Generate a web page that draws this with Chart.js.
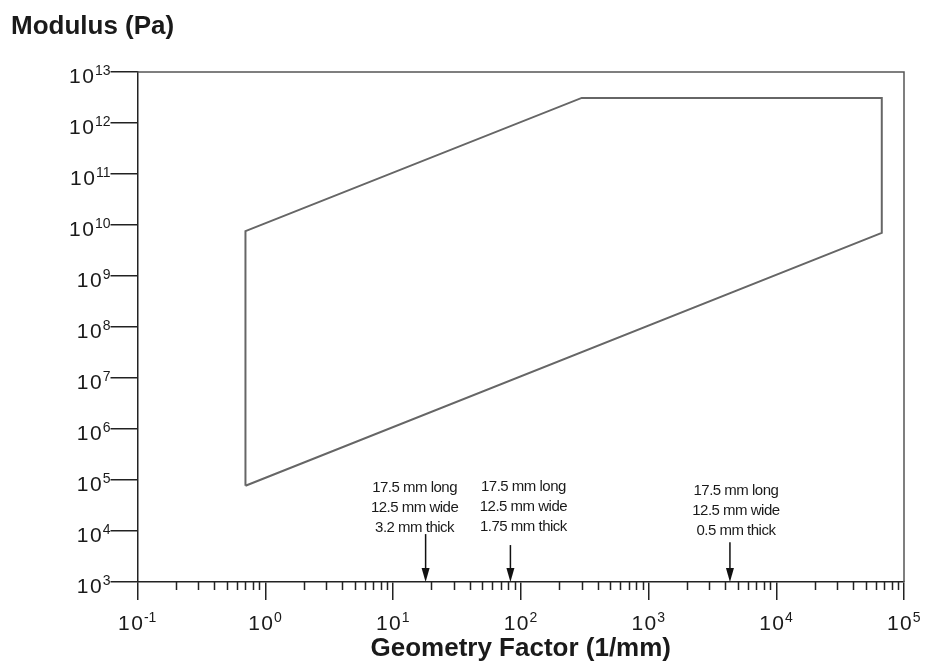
<!DOCTYPE html>
<html>
<head>
<meta charset="utf-8">
<script src="https://cdn.jsdelivr.net/npm/chart.js@4.4.0/dist/chart.umd.min.js"></script>
<style>
  body { margin: 0; background: #fff; }
  #wrap { width: 929px; height: 668px; }
</style>
</head>
<body>
<div id="wrap"><canvas id="chart"></canvas></div>
<script>
// Outline of the measurable region (geometry factor vs modulus)
const outlineX = [0.7, 0.7, 300, 67000, 67000, 0.7];
const outlineY = [7.7e4, 7.6e9, 3.1e12, 3.1e12, 7.0e9, 7.7e4];

// Decades shown on the axes (exponents of ten)
const xExponents = [-1, 0, 1, 2, 3, 4, 5];
const yExponents = [3, 4, 5, 6, 7, 8, 9, 10, 11, 12, 13];

// Sample geometries marked with arrows
const sampleX = [18, 83, 4340];
const sampleArrowTop = [8.7e3, 5.3e3, 6.0e3];
const sampleLabels = [
    ['17.5 mm long', '12.5 mm wide', '3.2 mm thick'],
    ['17.5 mm long', '12.5 mm wide', '1.75 mm thick'],
    ['17.5 mm long', '12.5 mm wide', '0.5 mm thick']
];

const FONT = '"Liberation Sans", Arial, Helvetica, sans-serif';
const INK = '#1a1a1a';

// label offsets in pixels (dx from arrow, first baseline above axis)
const labelShift = [[-11, 90], [13, 91], [6, 87]];

function drawPower(ctx, exp, xPos, baseY, align) {
    ctx.font = '21px ' + FONT;
    ctx.letterSpacing = '1.5px';
    const bw = ctx.measureText('10').width;
    ctx.font = '14px ' + FONT;
    ctx.letterSpacing = '0px';
    const supText = String(exp);
    const sw = ctx.measureText(supText).width;
    const total = bw + sw;
    const start = align === 'center' ? xPos - total / 2 : xPos - total;
    ctx.textAlign = 'left';
    ctx.textBaseline = 'alphabetic';
    ctx.font = '21px ' + FONT;
    ctx.letterSpacing = '1.5px';
    ctx.fillText('10', start, baseY);
    ctx.font = '14px ' + FONT;
    ctx.letterSpacing = '0px';
    ctx.fillText(supText, start + bw - 0.5, baseY - 8);
}

const decorations = {
    id: 'decorations',
    beforeDatasetsDraw(chart) {
        const { ctx, chartArea: a } = chart;
        ctx.save();
        ctx.strokeStyle = '#555';
        ctx.lineWidth = 1.5;
        ctx.beginPath();
        ctx.moveTo(a.left, a.top);
        ctx.lineTo(a.right, a.top);
        ctx.lineTo(a.right, a.bottom);
        ctx.stroke();
        ctx.restore();
    },
    afterDraw(chart) {
        const { ctx, chartArea: a, scales: { x, y } } = chart;
        ctx.save();

        // minor ticks on the x axis
        ctx.strokeStyle = '#222';
        ctx.lineWidth = 1.5;
        ctx.beginPath();
        for (let e = xExponents[0]; e < xExponents[xExponents.length - 1]; e++) {
            for (let k = 2; k <= 9; k++) {
                const px = Math.round(x.getPixelForValue(k * Math.pow(10, e))) + 0.5;
                ctx.moveTo(px, a.bottom);
                ctx.lineTo(px, a.bottom + 8);
            }
        }
        ctx.stroke();

        // tick labels
        ctx.fillStyle = INK;
        xExponents.forEach(e => {
            drawPower(ctx, e, x.getPixelForValue(Math.pow(10, e)), a.bottom + 48, 'center');
        });
        yExponents.forEach(e => {
            drawPower(ctx, e, 111, y.getPixelForValue(Math.pow(10, e)) + 11, 'right');
        });

        // y axis title
        ctx.font = 'bold 26px ' + FONT;
        ctx.letterSpacing = '0px';
        ctx.textAlign = 'left';
        ctx.fillText('Modulus (Pa)', 11, 34);

        // sample arrows and labels
        sampleX.forEach((v, i) => {
            const px = x.getPixelForValue(v);
            const top = y.getPixelForValue(sampleArrowTop[i]);
            const tip = y.getPixelForValue(1e3);
            ctx.strokeStyle = '#111';
            ctx.lineWidth = 1.5;
            ctx.beginPath();
            ctx.moveTo(px, top);
            ctx.lineTo(px, tip - 10);
            ctx.stroke();
            ctx.fillStyle = '#111';
            ctx.beginPath();
            ctx.moveTo(px - 4, tip - 14);
            ctx.lineTo(px + 4, tip - 14);
            ctx.lineTo(px, tip);
            ctx.closePath();
            ctx.fill();

            ctx.fillStyle = INK;
            ctx.font = '15px ' + FONT;
            ctx.letterSpacing = '-0.5px';
            ctx.textAlign = 'center';
            const [dx, up] = labelShift[i];
            sampleLabels[i].forEach((line, j) => {
                ctx.fillText(line, px + dx, a.bottom - up + j * 20);
            });
        });
        ctx.restore();
    }
};

new Chart(document.getElementById('chart'), {
    type: 'scatter',
    data: {
        datasets: [{
            data: outlineX.map((v, i) => ({ x: v, y: outlineY[i] })),
            showLine: true,
            borderColor: '#666',
            borderWidth: 2,
            pointRadius: 0,
            fill: false
        }]
    },
    options: {
        responsive: true,
        maintainAspectRatio: false,
        animation: false,
        layout: { padding: { top: 72, right: 25, left: 0, bottom: 0 } },
        plugins: { legend: { display: false }, tooltip: { enabled: false } },
        scales: {
            x: {
                type: 'logarithmic',
                min: 0.1,
                max: 1e5,
                afterBuildTicks: s => { s.ticks = xExponents.map(e => ({ value: Math.pow(10, e) })); },
                afterFit: s => { s.height = 86; },
                ticks: { display: false },
                grid: { drawOnChartArea: false, drawTicks: true, tickLength: 18, color: '#222', lineWidth: 1.5 },
                border: { display: true, color: '#222', width: 1.5 },
                title: {
                    display: true,
                    text: 'Geometry Factor (1/mm)',
                    color: INK,
                    font: { family: FONT, size: 26, weight: 'bold' },
                    padding: { top: 0, bottom: 4 }
                }
            },
            y: {
                type: 'logarithmic',
                min: 1e3,
                max: 1e13,
                afterBuildTicks: s => { s.ticks = yExponents.map(e => ({ value: Math.pow(10, e) })); },
                afterFit: s => { s.width = 137.5; },
                ticks: { display: false },
                grid: { drawOnChartArea: false, drawTicks: true, tickLength: 27, color: '#222', lineWidth: 1.5 },
                border: { display: true, color: '#222', width: 1.5 }
            }
        }
    },
    plugins: [decorations]
});
</script>
</body>
</html>
